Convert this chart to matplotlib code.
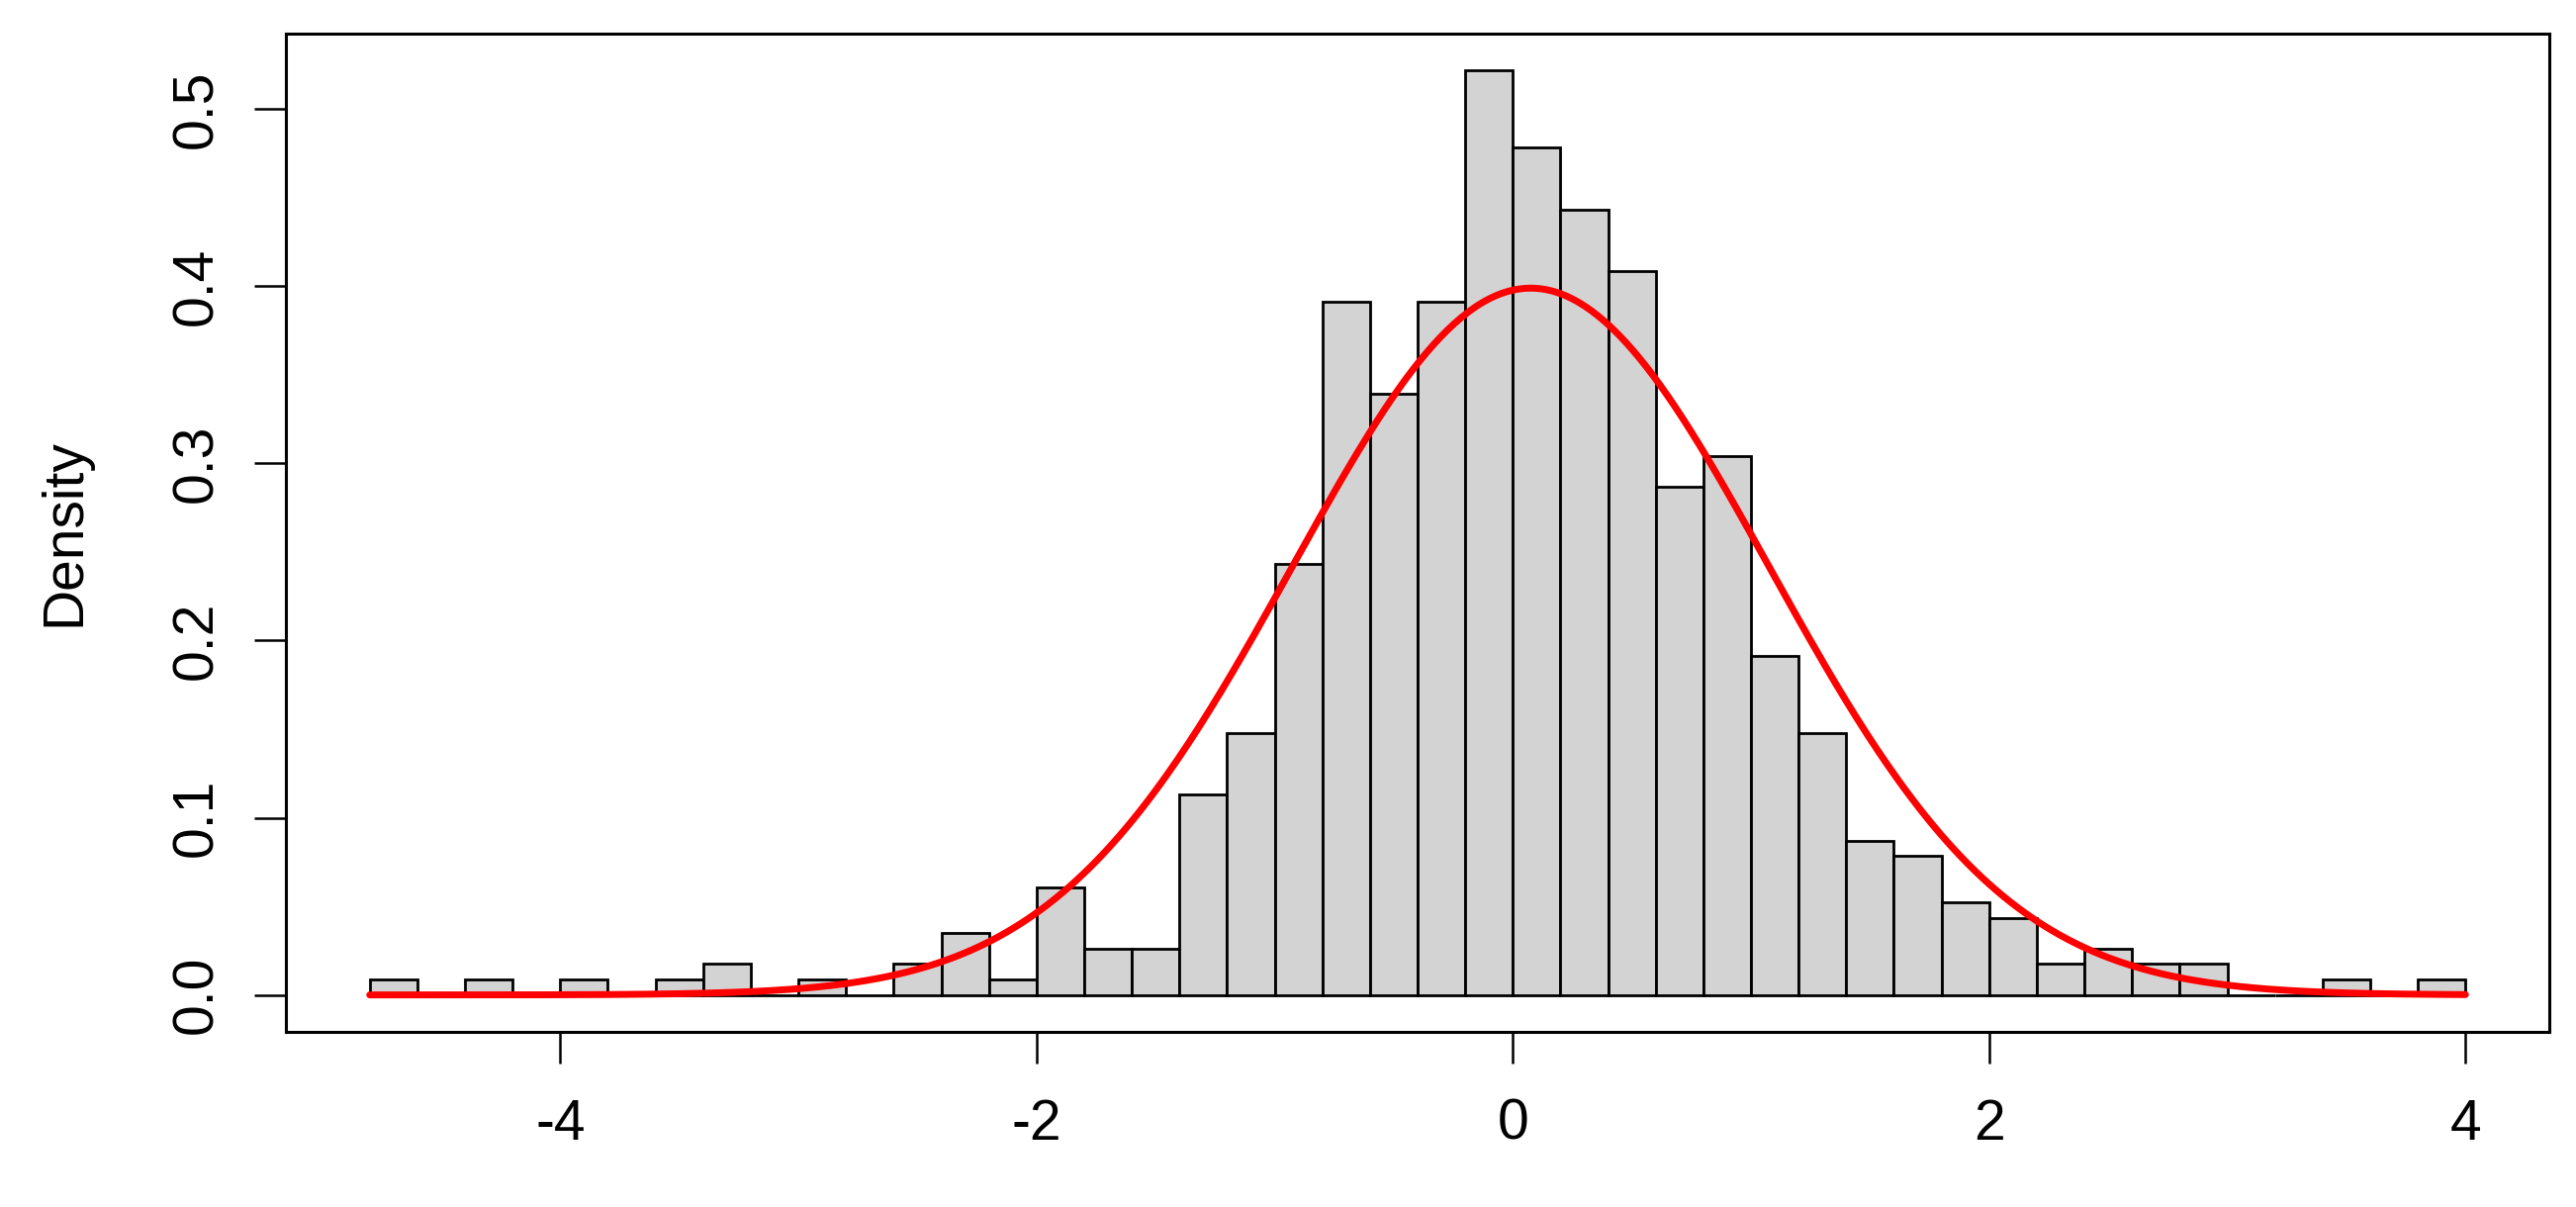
import numpy as np
import matplotlib
matplotlib.use("Agg")
import matplotlib.pyplot as plt

plt.rcParams['font.family'] = ['Liberation Sans', 'DejaVu Sans']

# ---- data ----
bin_start = -4.8
bin_width = 0.2
counts = [1, 0, 1, 0, 1, 0, 1, 2, 0, 1, 0, 2, 4, 1, 7, 3, 3, 13, 17, 28,
          45, 39, 45, 60, 55, 51, 47, 33, 35, 22, 17, 10, 9, 6, 5, 2, 3, 2, 2,
          0, 0, 1, 0, 1]
normal_mean = 0.075
normal_sd = 1.0
x_ticks = [-4, -2, 0, 2, 4]
y_ticks = [0.0, 0.1, 0.2, 0.3, 0.4, 0.5]
y_label = "Density"

counts = np.array(counts, dtype=float)
n_total = counts.sum()
edges = bin_start + bin_width * np.arange(len(counts) + 1)
density = counts / (n_total * bin_width)

W, H, DPI = 2604, 1220, 200
fig = plt.figure(figsize=(W / DPI, H / DPI), dpi=DPI)
ax = fig.add_axes([289 / W, 1 - 1043 / H, (2577 - 289) / W, (1043 - 34) / H])

ax.bar(edges[:-1], density, width=bin_width, align='edge',
       color='#D3D3D3', edgecolor='black', linewidth=1.0, zorder=2)

xs = np.linspace(edges[0], edges[-1], 600)
ys = np.exp(-0.5 * ((xs - normal_mean) / normal_sd) ** 2) / (normal_sd * np.sqrt(2 * np.pi))
ax.plot(xs, ys, color='red', linewidth=2.5, zorder=3, solid_capstyle='round')

xr = edges[-1] - edges[0]
ax.set_xlim(edges[0] - 0.04 * xr, edges[-1] + 0.04 * xr)
ymax = density.max()
ax.set_ylim(-0.04 * ymax, ymax * 1.04)

ax.set_xticks(x_ticks)
ax.set_xticklabels([f"{t:g}" for t in x_ticks])
ax.set_yticks(y_ticks)
ax.set_yticklabels([f"{t:.1f}" for t in y_ticks], rotation=90, va='center')

ax.tick_params(axis='both', direction='out', length=11.5, width=0.9,
               labelsize=20.5, colors='black')
ax.tick_params(axis='x', pad=12.5)
ax.tick_params(axis='y', pad=11)

for s in ax.spines.values():
    s.set_linewidth(1.1)
    s.set_color('black')

ax.set_ylabel(y_label, fontsize=20.5)
ax.yaxis.set_label_coords((92 - 289) / (2577 - 289), 0.5)

fig.savefig("out.png", dpi=DPI, facecolor='white')
